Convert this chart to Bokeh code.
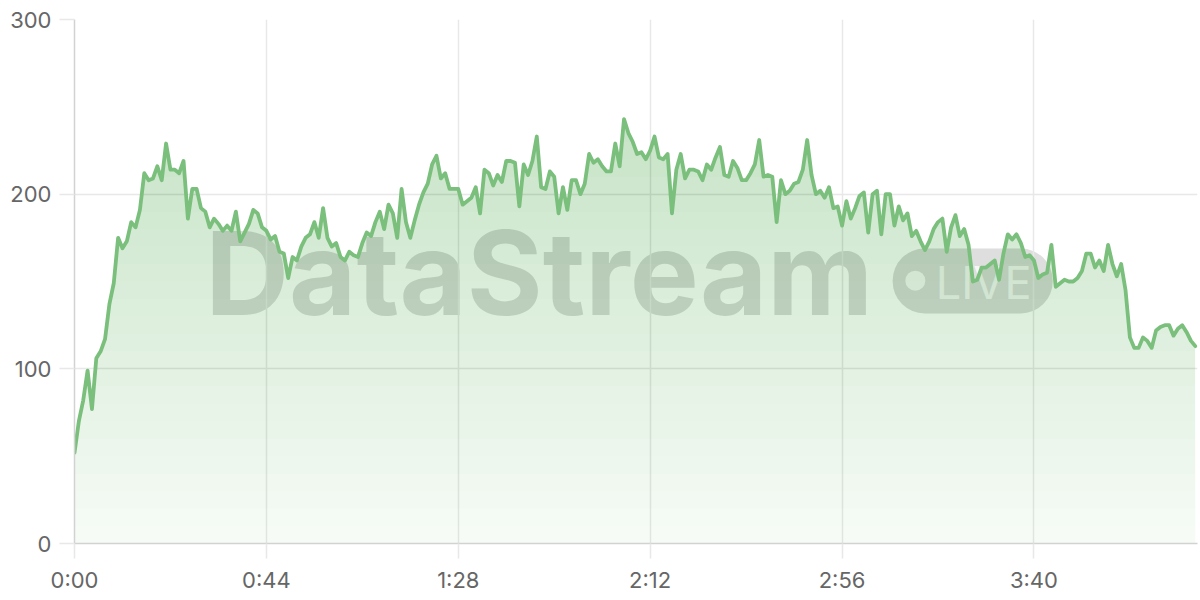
import numpy as np
from bokeh.plotting import figure
from bokeh.models import FixedTicker, BoxAnnotation, Label, Range1d
from bokeh.embed import file_html
from bokeh.resources import INLINE

# ---- data -----------------------------------------------------------------
values = [
    52, 70, 82, 99, 77, 106, 110, 117, 137, 149,
    175, 169, 173, 184, 181, 191, 212, 208, 209, 216,
    208, 229, 214, 214, 212, 219, 186, 203, 203, 192,
    190, 181, 186, 183, 179, 182, 179, 190, 173, 178,
    183, 191, 189, 181, 179, 174, 176, 167, 166, 152,
    164, 162, 170, 175, 177, 184, 175, 192, 175, 170,
    172, 164, 162, 167, 165, 164, 172, 178, 176, 184,
    190, 180, 194, 189, 175, 203, 184, 175, 185, 194,
    201, 206, 217, 222, 209, 212, 203, 203, 203, 194,
    196, 198, 204, 189, 214, 212, 205, 211, 207, 219,
    219, 218, 193, 217, 211, 219, 233, 204, 203, 213,
    210, 189, 204, 191, 208, 208, 200, 206, 223, 218,
    220, 216, 213, 213, 229, 216, 243, 235, 230, 223,
    224, 220, 225, 233, 221, 220, 223, 189, 214, 223,
    209, 214, 214, 213, 208, 217, 214, 221, 227, 211,
    210, 219, 215, 208, 208, 212, 217, 231, 210, 211,
    210, 184, 208, 200, 202, 206, 207, 214, 231, 211,
    200, 202, 198, 204, 192, 193, 182, 196, 186, 192,
    199, 201, 178, 200, 202, 177, 200, 200, 182, 193,
    185, 189, 176, 179, 173, 168, 173, 180, 184, 186,
    167, 181, 188, 176, 180, 171, 150, 151, 158, 158,
    160, 162, 151, 166, 177, 174, 177, 172, 164, 165,
    162, 152, 154, 155, 171, 147, 149, 151, 150, 150,
    152, 156, 166, 166, 158, 162, 156, 171, 160, 153,
    160, 145, 118, 112, 112, 118, 116, 112, 122, 124,
    125, 125, 119, 123, 125, 121, 116, 113,
]
seconds = list(range(len(values)))          # one sample per second
x_ticks = [0, 44, 88, 132, 176, 220]
x_tick_labels = ["0:00", "0:44", "1:28", "2:12", "2:56", "3:40"]
y_ticks = [0, 100, 200, 300]

# ---- styles ---------------------------------------------------------------
GREEN = "#7abf7c"
GRID = "#e8e8e8"
AXIS = "#d2d2d2"
LABEL = "#666666"
FONT = "Inter"

p = figure(width=1200, height=600,
           x_range=Range1d(0, 257.5), y_range=Range1d(0, 300),
           output_backend="svg", toolbar_location=None,
           min_border_left=74, min_border_right=3,
           min_border_top=19, min_border_bottom=57)
p.outline_line_color = None
p.background_fill_color = "white"
p.border_fill_color = "white"

# ---- watermark (drawn lowest) ---------------------------------------------
WM = "#8c8c8c"
p.add_layout(Label(x=30.0, y=154.8, text="DataStream", text_font=FONT,
                   text_font_style="bold", text_font_size="116px",
                   text_color=WM, text_alpha=0.29,
                   text_baseline="alphabetic", level="image"))
p.add_layout(BoxAnnotation(left=187.6, right=224.3, bottom=131.7, top=168.9,
                           fill_color=WM, fill_alpha=0.29, line_color=None,
                           border_radius=32, level="image"))
p.add_layout(Label(x=197.5, y=149.4, text="LIVE", text_font=FONT,
                   text_font_size="45px", text_color="white", text_alpha=0.8,
                   text_baseline="alphabetic", level="image"))
dot = p.scatter(x=[192.8], y=[150.5], size=20, marker="circle",
                fill_color="white", fill_alpha=0.8, line_color=None)
dot.level = "underlay"

# ---- gradient area fill ---------------------------------------------------
vals = np.array(values, dtype=float)
p.varea(x=seconds, y1=0, y2=vals, fill_color=GREEN, fill_alpha=0.05)
for lev in range(0, 300, 10):
    p.varea(x=seconds, y1=np.minimum(vals, lev), y2=vals,
            fill_color=GREEN, fill_alpha=0.0101)

# ---- line -----------------------------------------------------------------
p.line(seconds, values, line_color=GREEN, line_width=3.8,
       line_join="round", line_cap="round")

# ---- axes & grid ----------------------------------------------------------
xt = FixedTicker(ticks=x_ticks)
yt = FixedTicker(ticks=y_ticks)
p.xaxis.ticker = xt
p.yaxis.ticker = yt
p.xgrid.ticker = xt
p.ygrid.ticker = yt
p.xaxis.major_label_overrides = dict(zip(x_ticks, x_tick_labels))

for ax in (p.xaxis, p.yaxis):
    ax.axis_line_color = AXIS
    ax.axis_line_width = 1.5
    ax.major_tick_out = 15
    ax.major_tick_in = 0
    ax.major_tick_line_color = GRID
    ax.major_tick_line_width = 1.5
    ax.minor_tick_line_color = None
    ax.major_label_text_font = FONT
    ax.major_label_text_font_size = "22px"
    ax.major_label_text_color = LABEL
p.xaxis.major_label_standoff = 8
p.yaxis.major_label_standoff = 8

for g in (p.xgrid, p.ygrid):
    g.grid_line_color = GRID
    g.grid_line_width = 1.5

open("out.html", "w").write(file_html(p, INLINE))
